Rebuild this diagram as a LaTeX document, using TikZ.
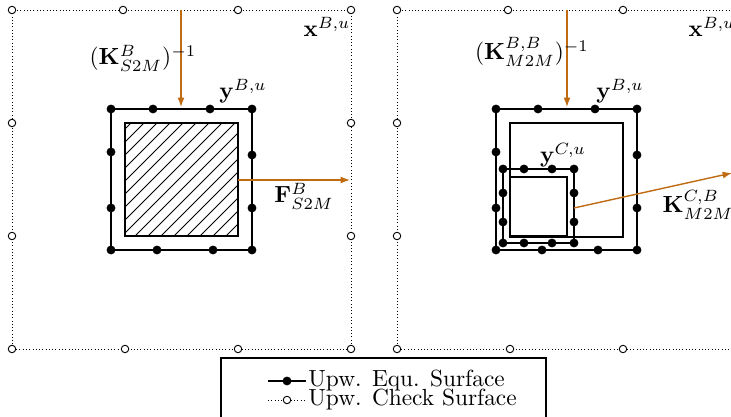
\documentclass[tikz,border=0pt]{standalone}
\usepackage{amsmath,amssymb}
\usetikzlibrary{arrows.meta}
\definecolor{opline}{HTML}{C06A12}
\newcommand{\eqpts}[1]{\foreach \p in {#1} \fill \p circle[radius=1.9pt];}
\newcommand{\chkpts}[1]{\foreach \p in {#1} \draw[line width=0.4pt,fill=white] \p circle[radius=1.6pt];}

\begin{document}
\begin{tikzpicture}[x=0.4283pt,y=-0.4283pt,
  equ/.style={line width=0.5pt},
  chk/.style={densely dotted,line width=0.4pt},
  cell/.style={line width=0.45pt},
  op/.style={draw=opline,line width=0.6pt,-{Latex[length=4pt,width=3pt]}}]
\useasboundingbox (0,0) rectangle (731,417);

% --- left panel: S2M
\draw[chk] (12,10) rectangle (351,349);
\chkpts{(12,10),(123,10),(238,10),(351,10),(12,123),(12,236),(351,123),(351,236),
        (12,349),(125,349),(238,349),(351,349)}
\begin{scope}
  \clip (125,123) rectangle (238,236);
  \foreach \i in {-120,-107,...,120}
    \draw[line width=0.35pt] (125+\i,236) -- ++(120,-120);
\end{scope}
\draw[cell] (125,123) rectangle (238,236);
\draw[equ] (111,109) rectangle (252,250);
\eqpts{(111,109),(153,109),(210,109),(252,109),(111,152),(111,208),(252,155),(252,208),
       (111,250),(157,250),(213,250),(252,250)}

\coordinate (kinL-a) at (181,10);
\coordinate (kinL-b) at (181,107);
\coordinate (fL-a) at (238,180);
\coordinate (fL-b) at (350,180);
\draw[op] (kinL-a) -- (kinL-b);
\draw[op] (fL-a) -- (fL-b);
\node (kinL) at (143,58) {$(\mathbf{K}^{B}_{S2M})^{-1}$};
\node (yBL) at (243,91) {$\mathbf{y}^{B,u}$};
\node (xBL) at (327,27) {$\mathbf{x}^{B,u}$};
\node (fL) at (304,196) {$\mathbf{F}^{B}_{S2M}$};

% --- right panel: M2M
\draw[chk] (397,10) rectangle (736,349);
\chkpts{(397,10),(508,10),(623,10),(397,123),(397,236),(736,123),(736,236),
        (397,349),(510,349),(623,349)}
\draw[cell] (510,123) rectangle (623,237);
\draw[equ] (496,109) rectangle (637,250);
\eqpts{(496,109),(538,109),(595,109),(637,109),(496,152),(496,208),(637,155),(637,208),
       (496,250),(542,250),(598,250),(637,250)}
\draw[cell] (510,177) rectangle (567,236);
\draw[equ] (503,169) rectangle (574,243);
\eqpts{(503,169),(524,169),(552,169),(574,169),(503,193),(503,222),(574,193),(574,222),
       (503,243),(524,243),(552,243),(574,243)}

\coordinate (kinR-a) at (567,10);
\coordinate (kinR-b) at (567,107);
\coordinate (kcb-a) at (574,208);
\coordinate (kcb-b) at (732,173);
\draw[op] (kinR-a) -- (kinR-b);
\draw[op] (kcb-a) -- (kcb-b);
\node (kinR) at (532,52) {$(\mathbf{K}^{B,B}_{M2M})^{-1}$};
\node (yBR) at (620,91) {$\mathbf{y}^{B,u}$};
\node (yCR) at (563,155) {$\mathbf{y}^{C,u}$};
\node (xBR) at (712,27) {$\mathbf{x}^{B,u}$};
\node (kcb) at (698,205) {$\mathbf{K}^{C,B}_{M2M}$};

% --- legend
\draw[line width=0.5pt] (221,430) -- (221,358) -- (546,358) -- (546,430);
\coordinate (leq-a) at (268,381);
\coordinate (leq-b) at (306,381);
\coordinate (lck-a) at (268,400);
\coordinate (lck-b) at (306,400);
\draw[equ] (leq-a) -- (leq-b);
\eqpts{(287,381)}
\draw[chk] (lck-a) -- (lck-b);
\chkpts{(287,400)}
\node[anchor=west,inner sep=0pt] (leq) at (308,381) {Upw. Equ. Surface};
\node[anchor=west,inner sep=0pt] (lck) at (308,400) {Upw. Check Surface};
\end{tikzpicture}
\end{document}
